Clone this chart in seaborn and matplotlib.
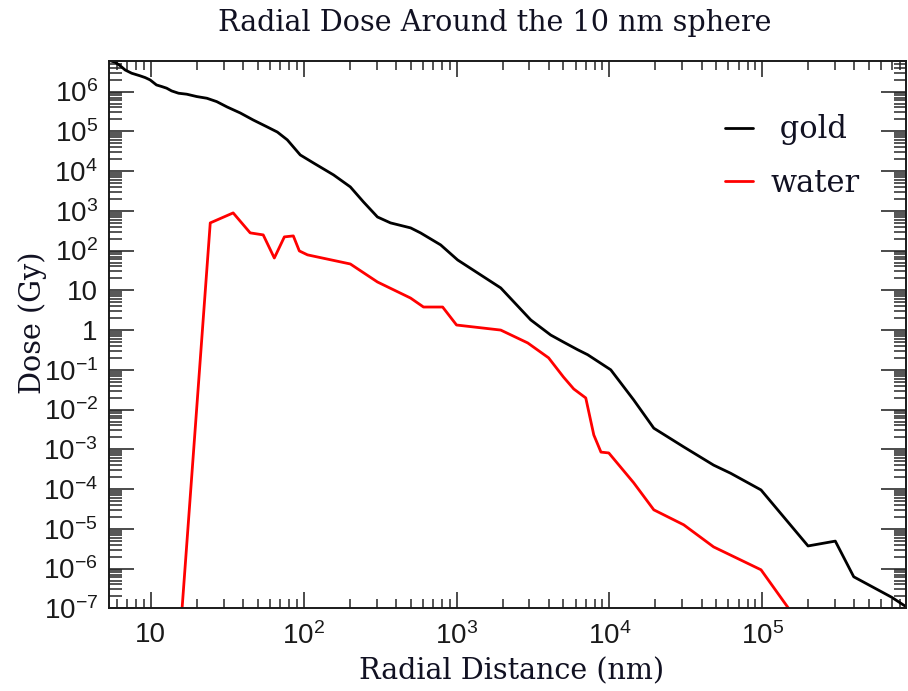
import numpy as np
import pandas as pd
import matplotlib
matplotlib.use("Agg")
import matplotlib.pyplot as plt
import matplotlib.ticker as mticker
import seaborn as sns

# Radial dose profile around a 10 nm sphere (distance in nm, dose in Gy)
gold_r = [5.4, 5.84, 6.3, 6.8, 7.5, 8.5, 9.2, 9.9, 10.9, 11.8, 12.7, 13.7, 15.2,
          17.2, 20, 23.3, 27, 31.6, 38.5, 46.8, 57.8, 67.3, 78.2, 95, 116, 157,
          202, 246, 304, 370, 501, 582, 787, 1017, 1945, 3057, 4130, 5000, 6200,
          7200, 1.02e4, 1.44e4, 1.95e4, 3.06e4, 4.8e4, 6.2e4, 9.8e4, 1.99e5,
          3.0e5, 3.96e5, 7.0e5, 8.7e5]
gold_dose = [6.0e6, 5.5e6, 4.5e6, 3.5e6, 2.9e6, 2.5e6, 2.25e6, 1.97e6, 1.47e6,
             1.34e6, 1.22e6, 1.04e6, 9.1e5, 8.6e5, 7.5e5, 6.8e5, 5.6e5, 4.1e5,
             2.9e5, 1.93e5, 1.29e5, 9.6e4, 6.1e4, 2.55e4, 1.6e4, 8.0e3, 4.0e3,
             1.68e3, 700, 497, 372, 278, 139, 58, 11.5, 1.8, 0.75, 0.50, 0.32,
             0.24, 0.1, 0.0175, 0.0034, 1.15e-3, 4.0e-4, 2.5e-4, 9.5e-5, 3.7e-6,
             4.9e-6, 6.2e-7, 1.9e-7, 1.1e-7]

water_r = [15, 24.5, 34.6, 44.7, 54.4, 64.3, 74.8, 85.6, 93.7, 106, 202, 304,
           500, 608, 811, 1000, 1945, 2920, 4000, 5000, 5840, 7000, 7900, 8800,
           9900, 1.44e4, 1.95e4, 3.06e4, 4.8e4, 9.8e4, 2.0e5]
water_dose = [3e-9, 497, 887, 279, 248, 65, 221, 234, 98, 78, 46, 16.2, 6.4,
              3.8, 3.8, 1.34, 1.0, 0.475, 0.20, 0.066, 0.033, 0.0196, 0.0023,
              8.5e-4, 8.1e-4, 1.44e-4, 3.0e-5, 1.26e-5, 3.5e-6, 9.3e-7, 2e-8]

x_tick_values = [1e1, 1e2, 1e3, 1e4, 1e5]
x_tick_labels = ["10", r"$\mathregular{10^{2}}$", r"$\mathregular{10^{3}}$",
                 r"$\mathregular{10^{4}}$", r"$\mathregular{10^{5}}$"]
y_tick_values = [1e6, 1e5, 1e4, 1e3, 1e2, 1e1, 1e0, 1e-1, 1e-2, 1e-3, 1e-4,
                 1e-5, 1e-6, 1e-7]
y_tick_labels = [r"$\mathregular{10^{6}}$", r"$\mathregular{10^{5}}$",
                 r"$\mathregular{10^{4}}$", r"$\mathregular{10^{3}}$",
                 r"$\mathregular{10^{2}}$", "10", "1",
                 r"$\mathregular{10^{-1}}$", r"$\mathregular{10^{-2}}$",
                 r"$\mathregular{10^{-3}}$", r"$\mathregular{10^{-4}}$",
                 r"$\mathregular{10^{-5}}$", r"$\mathregular{10^{-6}}$",
                 r"$\mathregular{10^{-7}}$"]

df = pd.concat([
    pd.DataFrame({"r": gold_r, "dose": gold_dose, "material": " gold"}),
    pd.DataFrame({"r": water_r, "dose": water_dose, "material": "water"}),
], ignore_index=True)

sns.set_theme(style="ticks")
plt.rcParams["font.family"] = ["Liberation Sans", "DejaVu Sans"]
plt.rcParams["mathtext.fontset"] = "custom"
plt.rcParams["mathtext.rm"] = "Liberation Sans"
plt.rcParams["mathtext.it"] = "Liberation Sans:italic"
plt.rcParams["mathtext.bf"] = "Liberation Sans:bold"

SERIF = ["DejaVu Serif"]
TEXT_COLOR = "#111122"

fig = plt.figure(figsize=(9.08, 6.91), dpi=100)
ax = fig.add_axes([0.120, 0.1197, 0.8778, 0.7925])
ax.set_xscale("log")
ax.set_yscale("log")

sns.lineplot(data=df, x="r", y="dose", hue="material",
             palette={" gold": "black", "water": "#ff0000"},
             estimator=None, sort=False, linewidth=2.0, ax=ax)

ax.set_xlim(5.33, 8.7e5)
ax.set_ylim(1e-7, 6.0e6)

ax.xaxis.set_major_locator(mticker.FixedLocator(x_tick_values))
ax.xaxis.set_major_formatter(mticker.FixedFormatter(x_tick_labels))
ax.yaxis.set_major_locator(mticker.FixedLocator(y_tick_values))
ax.yaxis.set_major_formatter(mticker.FixedFormatter(y_tick_labels))
ax.xaxis.set_minor_locator(mticker.LogLocator(base=10, subs=np.arange(2, 10), numticks=20))
ax.yaxis.set_minor_locator(mticker.LogLocator(base=10, subs=np.arange(2, 10), numticks=30))
ax.xaxis.set_minor_formatter(mticker.NullFormatter())
ax.yaxis.set_minor_formatter(mticker.NullFormatter())

ax.tick_params(axis="x", which="major", direction="in", length=11.5, width=1.1,
               top=True, bottom=True, labelsize=20, pad=10, colors="#1a1a1a")
ax.tick_params(axis="x", which="minor", direction="in", length=6.2, width=1.1,
               top=True, bottom=True)
ax.tick_params(axis="y", which="major", direction="in", length=18, width=1.1,
               left=True, right=True, labelsize=20, pad=8, colors="#1a1a1a")
ax.tick_params(axis="y", which="minor", direction="in", length=9, width=1.1,
               left=True, right=True)
for s in ax.spines.values():
    s.set_linewidth(1.4)
    s.set_color("#1a1a1a")
ax.set_xlabel("")
ax.set_ylabel("")

leg = ax.legend(loc="upper left", bbox_to_anchor=(0.754, 0.930), frameon=False,
                borderpad=0, handlelength=0.92, handletextpad=0.55,
                labelspacing=0.74, prop={"family": SERIF, "size": 22})
for t in leg.get_texts():
    t.set_color(TEXT_COLOR)
for h in leg.get_lines():
    h.set_linewidth(2.0)

fig.text(0.545, 0.966, "Radial Dose Around the 10 nm sphere", ha="center",
         va="center", fontsize=20.6, family=SERIF, color=TEXT_COLOR)
fig.text(0.563, 0.029, "Radial Distance (nm)", ha="center", va="center",
         fontsize=20.6, family=SERIF, color=TEXT_COLOR)
fig.text(0.036, 0.533, "Dose (Gy)", ha="center", va="center", rotation=90,
         fontsize=20.6, family=SERIF, color=TEXT_COLOR)

fig.savefig("out.png", dpi=100, facecolor="white")
